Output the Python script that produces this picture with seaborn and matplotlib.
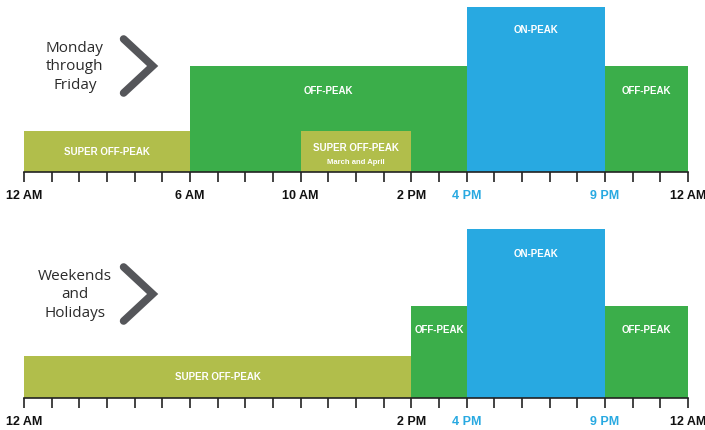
import matplotlib
matplotlib.use("Agg")
import matplotlib.pyplot as plt
import seaborn as sns

# Time-of-use periods (hours from midnight) and bar heights
weekday_start = [0, 6, 10, 16, 21]
weekday_end = [6, 16, 14, 21, 24]
weekday_level = [41, 106, 41, 165, 106]
weekday_period = ["SUPER OFF-PEAK", "OFF-PEAK", "SUPER OFF-PEAK", "ON-PEAK", "OFF-PEAK"]
weekday_note = ["", "", "March and April", "", ""]
weekday_label_y = [21, 82, 25, 143, 82]

weekend_start = [0, 14, 16, 21]
weekend_end = [14, 16, 21, 24]
weekend_level = [42, 92, 169, 92]
weekend_period = ["SUPER OFF-PEAK", "OFF-PEAK", "ON-PEAK", "OFF-PEAK"]
weekend_note = ["", "", "", ""]
weekend_label_y = [22, 69, 145, 69]

weekday_ticks = [0, 6, 10, 14, 16, 21, 24]
weekday_ticklabels = ["12 AM", "6 AM", "10 AM", "2 PM", "4 PM", "9 PM", "12 AM"]
weekend_ticks = [0, 14, 16, 21, 24]
weekend_ticklabels = ["12 AM", "2 PM", "4 PM", "9 PM", "12 AM"]
peak_hours = [16, 21]

colors = {"SUPER OFF-PEAK": "#b1be4b", "OFF-PEAK": "#3bae4a", "ON-PEAK": "#28a9e1"}
blue = "#28a9e1"
narrow = ["Liberation Sans Narrow", "Liberation Sans", "DejaVu Sans"]

sns.set_style("white")

W, H = 705, 431
fig = plt.figure(figsize=(W / 100, H / 100), dpi=100)


def draw_panel(rect, top, start, end, level, period, note, label_y,
               ticks, ticklabels, title, title_y):
    ax = fig.add_axes(rect)
    widths = [e - s for s, e in zip(start, end)]
    ax.bar(start, level, width=widths, align="edge",
           color=[colors[p] for p in period], linewidth=0, zorder=1)
    for s, e, p, n, y in zip(start, end, period, note, label_y):
        cx = (s + e) / 2
        ax.text(cx, y, p, ha="center", va="center", color="white",
                fontsize=7, fontweight="bold", family=narrow, zorder=3)
        if n:
            ax.text(cx, y - 14, n, ha="center", va="center", color="white",
                    fontsize=5.5, fontweight="bold", family=narrow, zorder=3)
    ax.set_xlim(0, 24)
    ax.set_ylim(0, top)
    ax.set_yticks([])
    for side in ["top", "left", "right"]:
        ax.spines[side].set_visible(False)
    ax.spines["bottom"].set_color("#222222")
    ax.spines["bottom"].set_linewidth(1.2)
    ax.set_xticks(ticks)
    ax.set_xticks(range(25), minor=True)
    ax.set_xticklabels(ticklabels, fontsize=9, fontweight="bold", family=narrow)
    ax.tick_params(axis="x", which="both", direction="out", length=7,
                   width=1.2, color="#222222", pad=5, bottom=True)
    for t, lab in zip(ticks, ax.get_xticklabels()):
        lab.set_color(blue if t in peak_hours else "#111111")
    # day-type caption with chevron
    ax.text(1.84, title_y, title, ha="center", va="center",
            fontsize=11, color="#2b2b2b", family=["Open Sans", "DejaVu Sans"],
            linespacing=1.35, clip_on=False)
    ax.plot([3.6, 4.65, 3.6], [title_y + 27, title_y, title_y - 27],
            color="#55565a", linewidth=5.5, solid_capstyle="round",
            solid_joinstyle="miter", clip_on=False)
    return ax


x0 = 24 / W
xw = (688 - 24) / W
draw_panel([x0, 1 - 173 / H, xw, 173 / H], 173,
           weekday_start, weekday_end, weekday_level, weekday_period,
           weekday_note, weekday_label_y, weekday_ticks, weekday_ticklabels,
           "Monday\nthrough\nFriday", 106)
draw_panel([x0, 1 - 399 / H, xw, 179 / H], 179,
           weekend_start, weekend_end, weekend_level, weekend_period,
           weekend_note, weekend_label_y, weekend_ticks, weekend_ticklabels,
           "Weekends\nand\nHolidays", 104)

fig.savefig("out.png", dpi=100)
